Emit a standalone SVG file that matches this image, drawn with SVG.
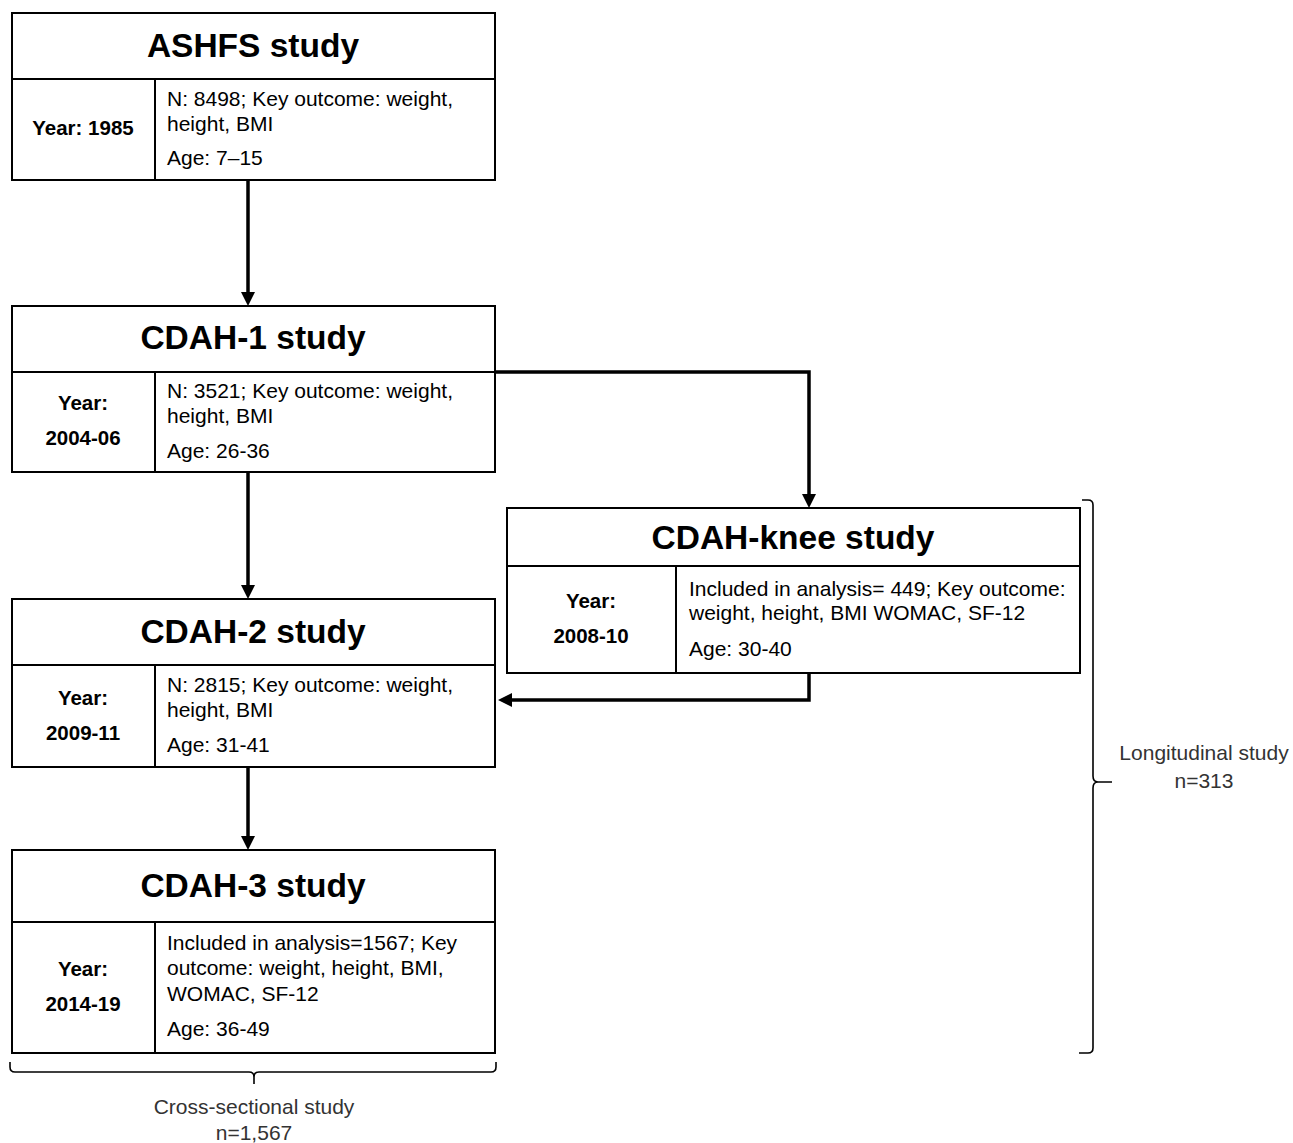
<svg xmlns="http://www.w3.org/2000/svg" width="1293" height="1143" viewBox="0 0 1293 1143">
<defs>
<marker id="ah" markerWidth="14" markerHeight="14" refX="10" refY="7" orient="auto" markerUnits="userSpaceOnUse" viewBox="0 0 14 14">
<path d="M0,0 L14,7 L0,14 z" fill="#000"/>
</marker>
<style>
.box{fill:#fff;stroke:#000;stroke-width:2}
.ln{stroke:#000;stroke-width:2;fill:none}
.br{stroke:#000;stroke-width:1.6;fill:none}
.title{font-family:"Liberation Sans",Arial,sans-serif;font-weight:bold;font-size:33.5px;text-anchor:middle}
.yr{font-family:"Liberation Sans",Arial,sans-serif;font-weight:bold;font-size:20.5px;text-anchor:middle}
.tx{font-family:"Liberation Sans",Arial,sans-serif;font-size:21px}
.lab{font-family:"Liberation Sans",Arial,sans-serif;font-size:21px;text-anchor:middle;fill:#333}
.con{stroke:#000;stroke-width:3.5;fill:none}
</style>
</defs>
<rect width="1293" height="1143" fill="#fff"/>
<g id="connectors">
<path class="con" d="M248,180 V302" marker-end="url(#ah)"/>
<path class="con" d="M248,472 V595" marker-end="url(#ah)"/>
<path class="con" d="M248,767 V846" marker-end="url(#ah)"/>
<path class="con" d="M495,372 H809 V504" marker-end="url(#ah)"/>
<path class="con" d="M809,673 V700 H502" marker-end="url(#ah)"/>
</g>
<g id="ashfs">
<rect class="box" x="12" y="13" width="483" height="167"/>
<line class="ln" x1="12" y1="79" x2="495" y2="79"/>
<line class="ln" x1="155" y1="79" x2="155" y2="180"/>
<text class="title" x="253" y="57">ASHFS study</text>
<text class="yr" x="83" y="135">Year: 1985</text>
<text class="tx" x="167" y="106">N: 8498; Key outcome: weight,</text>
<text class="tx" x="167" y="131">height, BMI</text>
<text class="tx" x="167" y="165">Age: 7–15</text>
</g>
<g id="cdah1">
<rect class="box" x="12" y="306" width="483" height="166"/>
<line class="ln" x1="12" y1="372" x2="495" y2="372"/>
<line class="ln" x1="155" y1="372" x2="155" y2="472"/>
<text class="title" x="253" y="349">CDAH-1 study</text>
<text class="yr" x="83" y="410">Year:</text>
<text class="yr" x="83" y="445">2004-06</text>
<text class="tx" x="167" y="398">N: 3521; Key outcome: weight,</text>
<text class="tx" x="167" y="423">height, BMI</text>
<text class="tx" x="167" y="458">Age: 26-36</text>
</g>
<g id="cdah2">
<rect class="box" x="12" y="599" width="483" height="168"/>
<line class="ln" x1="12" y1="665" x2="495" y2="665"/>
<line class="ln" x1="155" y1="665" x2="155" y2="767"/>
<text class="title" x="253" y="643">CDAH-2 study</text>
<text class="yr" x="83" y="705">Year:</text>
<text class="yr" x="83" y="740">2009-11</text>
<text class="tx" x="167" y="692">N: 2815; Key outcome: weight,</text>
<text class="tx" x="167" y="717">height, BMI</text>
<text class="tx" x="167" y="752">Age: 31-41</text>
</g>
<g id="cdah3">
<rect class="box" x="12" y="850" width="483" height="203"/>
<line class="ln" x1="12" y1="922" x2="495" y2="922"/>
<line class="ln" x1="155" y1="922" x2="155" y2="1053"/>
<text class="title" x="253" y="897">CDAH-3 study</text>
<text class="yr" x="83" y="976">Year:</text>
<text class="yr" x="83" y="1011">2014-19</text>
<text class="tx" x="167" y="950">Included in analysis=1567; Key</text>
<text class="tx" x="167" y="975">outcome: weight, height, BMI,</text>
<text class="tx" x="167" y="1001">WOMAC, SF-12</text>
<text class="tx" x="167" y="1036">Age: 36-49</text>
</g>
<g id="cdahknee">
<rect class="box" x="507" y="508" width="573" height="165"/>
<line class="ln" x1="507" y1="566" x2="1080" y2="566"/>
<line class="ln" x1="676" y1="566" x2="676" y2="673"/>
<text class="title" x="793" y="549">CDAH-knee study</text>
<text class="yr" x="591" y="608">Year:</text>
<text class="yr" x="591" y="643">2008-10</text>
<text class="tx" x="689" y="596">Included in analysis= 449; Key outcome:</text>
<text class="tx" x="689" y="620">weight, height, BMI WOMAC, SF-12</text>
<text class="tx" x="689" y="656">Age: 30-40</text>
</g>
<g id="longitudinal">
<path class="br" d="M1082,500 H1088 Q1093,500 1093,505 V776 Q1093,782 1098,782 H1112 M1098,782 Q1093,782 1093,788 V1048 Q1093,1053 1088,1053 H1079"/>
<text class="lab" x="1204" y="760">Longitudinal study</text>
<text class="lab" x="1204" y="788">n=313</text>
</g>
<g id="crosssectional">
<path class="br" d="M10,1062 V1067 Q10,1072 15,1072 H249 Q254,1072 254,1077 V1084 M254,1077 Q254,1072 259,1072 H491 Q496,1072 496,1067 V1062"/>
<text class="lab" x="254" y="1114">Cross-sectional study</text>
<text class="lab" x="254" y="1140">n=1,567</text>
</g>
</svg>
